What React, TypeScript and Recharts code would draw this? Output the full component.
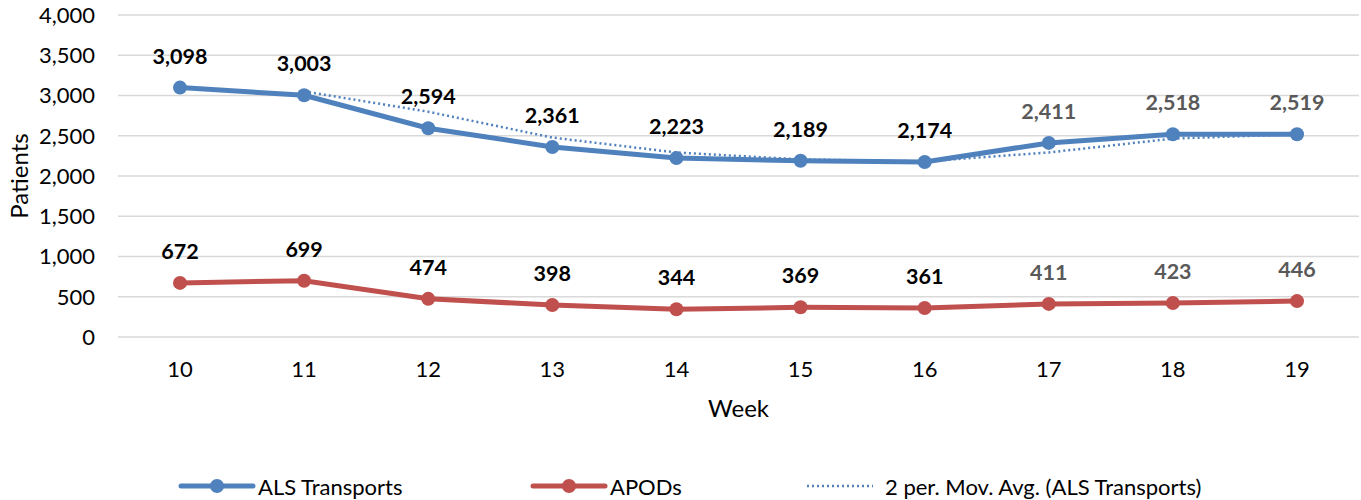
import React from 'react';
import { LineChart, Line, XAxis, YAxis, CartesianGrid, LabelList } from 'recharts';

const weeks = ['10', '11', '12', '13', '14', '15', '16', '17', '18', '19'];
const alsTransports = [3098, 3003, 2594, 2361, 2223, 2189, 2174, 2411, 2518, 2519];
const apods = [672, 699, 474, 398, 344, 369, 361, 411, 423, 446];
const movAvg = [null, 3050.5, 2798.5, 2477.5, 2292, 2206, 2181.5, 2292.5, 2464.5, 2518.5];
const yTicks = [0, 500, 1000, 1500, 2000, 2500, 3000, 3500, 4000];

const data = weeks.map((w, i) => ({ week: w, als: alsTransports[i], apods: apods[i], ma: movAvg[i] }));

const BLUE = '#4F81BD';
const RED = '#C0504D';
const FONT = 'Lato, "Open Sans", sans-serif';

const fmt = (v: number) => v.toLocaleString('en-US');

const makeLabel = (props: any) => {
  const { x, y, value, index } = props;
  const color = index < 7 ? '#000000' : '#595959';
  return (
    <text x={x} y={y - 32} textAnchor="middle" dominantBaseline="central" fontFamily={FONT} fontSize={21.5} fontWeight={700} fill={color}>
      {fmt(value)}
    </text>
  );
};

const LegendBox = () => {
  const items = [
    { label: 'ALS Transports', color: BLUE, x1: 181, x2: 253, tx: 258, dot: true, dash: undefined as any },
    { label: 'APODs', color: RED, x1: 533, x2: 605, tx: 610, dot: true, dash: undefined as any },
    { label: '2 per. Mov. Avg. (ALS Transports)', color: BLUE, x1: 807, x2: 873, tx: 885, dot: false, dash: '2 3' },
  ];
  return (
    <svg width={1361} height={30} style={{ position: 'absolute', left: 0, top: 471, display: 'block' }}>
      {items.map((it) => (
        <g key={it.label}>
          <line x1={it.x1} x2={it.x2} y1={15} y2={15} stroke={it.color} strokeWidth={it.dot ? 5 : 2.5} strokeDasharray={it.dash} strokeLinecap={it.dot ? 'round' : 'butt'} />
          {it.dot && <circle cx={(it.x1 + it.x2) / 2} cy={15} r={7} fill={it.color} />}
          <text x={it.tx} y={15} dominantBaseline="central" fontFamily={FONT} fontSize={22} fill="#000">{it.label}</text>
        </g>
      ))}
    </svg>
  );
};

const YLabel = (props: any) => {
  const vb = props.viewBox || {};
  const cx = 18;
  const cy = vb.y + vb.height / 2;
  return (
    <text x={cx} y={cy} transform={`rotate(-90 ${cx} ${cy})`} textAnchor="middle" dominantBaseline="central" fontFamily={FONT} fontSize={24} fill="#000">
      Patients
    </text>
  );
};

const XLabel = (props: any) => {
  const vb = props.viewBox || {};
  const cx = vb.x + vb.width / 2;
  return (
    <text x={cx} y={407} textAnchor="middle" dominantBaseline="central" fontFamily={FONT} fontSize={24} fill="#000">
      Week
    </text>
  );
};

export default function App() {
  return (
    <div style={{ position: 'absolute', left: 0, top: 0, width: 1361, height: 500, background: '#fff' }}>
      <LineChart width={1361} height={500} data={data} margin={{ top: 15, right: 2, left: 48, bottom: 85 }}>
        <CartesianGrid vertical={false} stroke="#D9D9D9" strokeWidth={1.5} />
        <XAxis
          dataKey="week"
          axisLine={false}
          tickLine={false}
          tickSize={0}
          tickMargin={24}
          height={78}
          padding={{ left: 62, right: 62 }}
          tick={{ fontFamily: FONT, fontSize: 22, fill: '#000' }}
          label={<XLabel />}
        />
        <YAxis
          domain={[0, 4000]}
          ticks={yTicks}
          width={70}
          axisLine={false}
          tickLine={false}
          tickSize={0}
          tickMargin={23}
          tickFormatter={fmt}
          tick={{ fontFamily: FONT, fontSize: 22, fill: '#000' }}
          label={<YLabel />}
        />
        <Line type="linear" dataKey="als" stroke={BLUE} strokeWidth={5} dot={{ r: 7, fill: BLUE, stroke: BLUE, strokeWidth: 0 }} isAnimationActive={false}>
          <LabelList dataKey="als" content={makeLabel} />
        </Line>
        <Line type="linear" dataKey="apods" stroke={RED} strokeWidth={5} dot={{ r: 7, fill: RED, stroke: RED, strokeWidth: 0 }} isAnimationActive={false}>
          <LabelList dataKey="apods" content={makeLabel} />
        </Line>
        <Line type="linear" dataKey="ma" stroke={BLUE} strokeWidth={2.5} strokeDasharray="2 3" dot={false} connectNulls={false} isAnimationActive={false} />
      </LineChart>
      <LegendBox />
    </div>
  );
}
